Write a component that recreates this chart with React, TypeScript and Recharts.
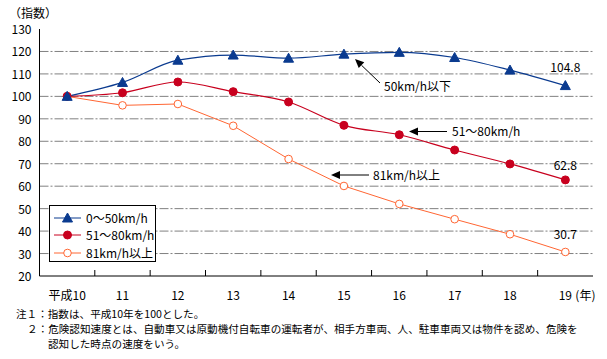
import React from "react";
import {
  LineChart,
  Line,
  XAxis,
  YAxis,
  CartesianGrid,
  Legend,
} from "recharts";

const YEARS = ["平成10", "11", "12", "13", "14", "15", "16", "17", "18", "19"];
const SPEED_0_50 = [100, 106.2, 116.1, 118.4, 117.0, 118.8, 119.6, 117.3, 111.7, 104.8];
const SPEED_51_80 = [100, 101.6, 106.4, 102.1, 97.5, 87.1, 82.9, 76.1, 69.9, 62.8];
const SPEED_81_UP = [100, 96.0, 96.6, 86.9, 72.1, 60.1, 52.1, 45.3, 38.6, 30.7];
const Y_TICKS = [20, 30, 40, 50, 60, 70, 80, 90, 100, 110, 120, 130];

const LEGEND_NAMES = ["0～50km/h", "51～80km/h", "81km/h以上"];
const END_LABELS = ["104.8", "62.8", "30.7"];

const BLUE = "#0a3a8f";
const RED = "#c8001e";
const ORANGE = "#ff6633";
const FONT = "'Noto Sans CJK JP', 'Noto Sans', sans-serif";

const W = 607;
const H = 359;
const HALF = 27.65; // half a category step

const data = YEARS.map((year, i) => ({
  year,
  low: SPEED_0_50[i],
  mid: SPEED_51_80[i],
  high: SPEED_81_UP[i],
}));

function Triangle({ cx, cy, color }: any) {
  if (cx == null || cy == null) return null;
  return (
    <polygon
      points={`${cx},${cy - 5} ${cx + 5},${cy + 4} ${cx - 5},${cy + 4}`}
      fill={color}
      stroke={color}
    />
  );
}

const YTick = ({ x, y, payload }: any) => (
  <text x={x} y={y + 5} textAnchor="end" fontSize={12} fontFamily={FONT} fill="#000">
    {payload.value}
  </text>
);

const XTick = ({ x, y, payload, index }: any) => (
  <g>
    {index < YEARS.length - 1 && (
      <line x1={x + HALF} x2={x + HALF} y1={y} y2={y - 6} stroke="#000" />
    )}
    <text x={x} y={y + 24} textAnchor="middle" fontSize={12} fontFamily={FONT} fill="#000">
      {payload.value}
    </text>
    {index === YEARS.length - 1 && (
      <text x={x + 10} y={y + 24} fontSize={12} fontFamily={FONT} fill="#000">
        (年)
      </text>
    )}
  </g>
);

const endLabel = (text: string, off: number) => (p: any) =>
  p.index === YEARS.length - 1 ? (
    <text
      x={p.x}
      y={p.y - off}
      textAnchor="middle"
      fontSize={12}
      fontFamily={FONT}
      fill="#000"
    >
      {text}
    </text>
  ) : null;

function LegendBox() {
  const colors = [BLUE, RED, ORANGE];
  return (
    <div
      style={{
        width: 107,
        height: 57,
        border: "1px solid #000",
        background: "#fff",
        fontFamily: FONT,
        fontSize: 12,
        paddingTop: 3,
        boxSizing: "border-box",
        whiteSpace: "nowrap",
      }}
    >
      {LEGEND_NAMES.map((name, i) => (
        <div key={name} style={{ display: "flex", alignItems: "center", height: 17.5 }}>
          <svg width={32} height={12} style={{ marginLeft: 4, flexShrink: 0 }}>
            <line x1={0} x2={27} y1={6} y2={6} stroke={colors[i]} strokeWidth={1} />
            {i === 0 && <Triangle cx={13.5} cy={6} color={BLUE} />}
            {i === 1 && <circle cx={13.5} cy={6} r={4} fill={RED} stroke={RED} />}
            {i === 2 && <circle cx={13.5} cy={6} r={3.8} fill="#fff" stroke={ORANGE} />}
          </svg>
          <span style={{ color: "#000", lineHeight: "12px" }}>{name}</span>
        </div>
      ))}
    </div>
  );
}

function Arrow({ x1, y1, x2, y2 }: any) {
  // arrow head at (x2, y2)
  const ang = Math.atan2(y2 - y1, x2 - x1);
  const len = 9;
  const wid = 4;
  const bx = x2 - len * Math.cos(ang);
  const by = y2 - len * Math.sin(ang);
  const px = -Math.sin(ang) * wid;
  const py = Math.cos(ang) * wid;
  return (
    <g>
      <line x1={x1} y1={y1} x2={bx} y2={by} stroke="#000" strokeWidth={1} />
      <polygon points={`${x2},${y2} ${bx + px},${by + py} ${bx - px},${by - py}`} fill="#000" />
    </g>
  );
}

export default function App() {
  return (
    <div style={{ position: "absolute", left: 0, top: 0, width: W, height: H, background: "#fff" }}>
      <LineChart
        width={W}
        height={H}
        data={data}
        margin={{ top: 29, right: 14, bottom: 0, left: 0 }}
      >
        <CartesianGrid
          vertical={false}
          stroke="#808080"
          strokeDasharray="9 2 2 2"
          horizontalValues={[30, 40, 50, 60, 70, 80, 90, 100, 110, 120]}
        />
        <XAxis
          dataKey="year"
          padding={{ left: HALF, right: HALF }}
          axisLine={{ stroke: "#000" }}
          tickLine={false}
          tickSize={0}
          tickMargin={0}
          tick={<XTick />}
          interval={0}
          height={83}
        />
        <XAxis
          xAxisId="top"
          orientation="top"
          dataKey="year"
          height={0}
          tick={false}
          tickLine={false}
          axisLine={{ stroke: "#000" }}
        />
        <YAxis
          domain={[20, 130]}
          ticks={Y_TICKS}
          width={39.5}
          axisLine={{ stroke: "#000" }}
          tickLine={false}
          tick={<YTick />}
          interval={0}
        />
        <YAxis
          yAxisId="right"
          orientation="right"
          domain={[20, 130]}
          width={0}
          tick={false}
          tickLine={false}
          axisLine={{ stroke: "#000" }}
        />
        <Legend
          layout="vertical"
          align="center"
          verticalAlign="middle"
          content={() => <LegendBox />}
          wrapperStyle={{ left: 49, top: 205, width: 107, height: 57 }}
        />
        <Line
          dataKey="high"
          type="linear"
          stroke={ORANGE}
          strokeWidth={1}
          isAnimationActive={false}
          dot={{ r: 3.8, fill: "#fff", stroke: ORANGE, strokeWidth: 1 }}
          label={endLabel(END_LABELS[2], 13)}
        />
        <Line
          dataKey="mid"
          type="monotone"
          stroke={RED}
          strokeWidth={1.2}
          isAnimationActive={false}
          dot={{ r: 4, fill: RED, stroke: RED, strokeWidth: 1 }}
          label={endLabel(END_LABELS[1], 10)}
        />
        <Line
          dataKey="low"
          type="monotone"
          stroke={BLUE}
          strokeWidth={1.2}
          isAnimationActive={false}
          dot={(p: any) => <Triangle key={p.index} cx={p.cx} cy={p.cy} color={BLUE} />}
          label={endLabel(END_LABELS[0], 14)}
        />
      </LineChart>
      <svg
        width={W}
        height={H}
        style={{ position: "absolute", left: 0, top: 0, pointerEvents: "none" }}
        fontFamily={FONT}
        fontSize={12}
      >
        <text x={9} y={18}>（指数）</text>
        <Arrow x1={380} y1={83} x2={355} y2={59} />
        <text x={384} y={91}>50km/h以下</text>
        <Arrow x1={447} y1={131.5} x2={409} y2={131.5} />
        <text x={452} y={136}>51～80km/h</text>
        <Arrow x1={369} y1={175} x2={331} y2={175} />
        <text x={373} y={180}>81km/h以上</text>
        <g fontSize={10.6}>
          <text x={16} y={318}>注１：指数は、平成10年を100とした。</text>
          <text x={27} y={333}>２：危険認知速度とは、自動車又は原動機付自転車の運転者が、相手方車両、人、駐車車両又は物件を認め、危険を</text>
          <text x={48} y={348}>認知した時点の速度をいう。</text>
        </g>
      </svg>
    </div>
  );
}
